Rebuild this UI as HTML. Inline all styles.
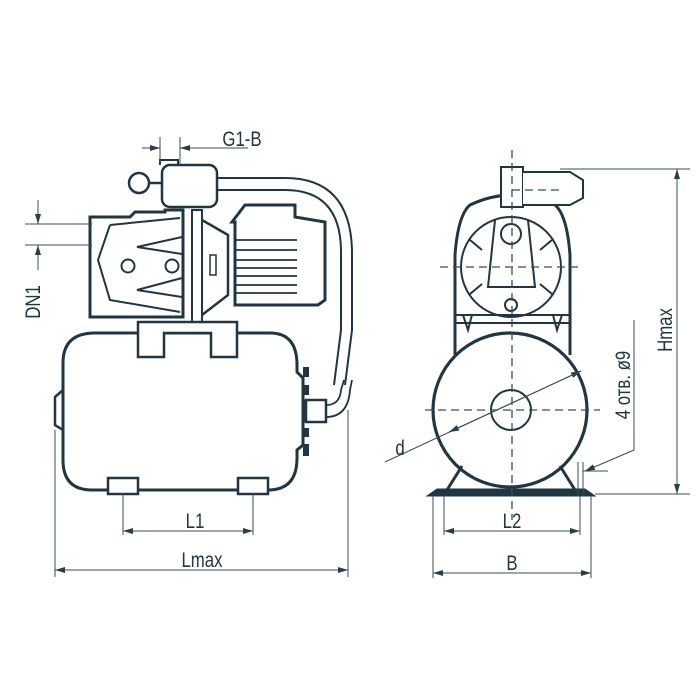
<!DOCTYPE html>
<html><head><style>body{margin:0;background:#fff}svg{display:block}</style></head><body>
<svg width="700" height="700" viewBox="0 0 700 700" xmlns="http://www.w3.org/2000/svg" font-family="Liberation Sans, sans-serif">
<defs>
<marker id="a" viewBox="0 0 10 6" refX="10" refY="3" markerWidth="10" markerHeight="6" orient="auto-start-reverse" markerUnits="userSpaceOnUse"><path d="M0,0L10,3L0,6z" fill="#2a3d48"/></marker>
</defs>
<g fill="none" stroke="#213642" stroke-width="3">
<!-- LEFT VIEW tank -->
<path d="M95,333 H270 Q297,333 297,365 V372 L303,378 V445 L297,450 V458 Q297,490 268,490 H92 Q63,490 63,460 V363 Q63,333 95,333Z" fill="#fff"/>
<path d="M63,390 L55,397 V425 L63,430" stroke-width="2.5"/>
<rect x="108" y="478" width="30" height="16" fill="#fff" stroke-width="2.5"/>
<rect x="238" y="478" width="30" height="16" fill="#fff" stroke-width="2.5"/>
<!-- fittings -->
<g fill="#213642" stroke="none">
<rect x="303" y="367" width="6" height="10"/>
<rect x="303" y="385" width="6" height="10"/>
<rect x="303" y="400" width="6" height="22"/>
<rect x="303" y="428" width="6" height="9"/>
<rect x="303" y="444" width="6" height="12"/>
</g>
<rect x="306" y="400" width="20" height="22" fill="#fff" stroke-width="2.5"/>
<path d="M326,405 Q340,405 341,390 L344,380 M326,417 Q348,417 350,390 L352,380" stroke-width="1.8"/>
<!-- saddle -->
<path d="M138,322 H237 V357 H211 V333 H164 V357 H138Z" fill="#fff" stroke-width="2.5"/>
<!-- pump body -->
<path d="M90,217 H130 L135,212 H165 V210 H183 V317 H90Z" fill="#fff"/>
<path d="M110,225 L180,218 M110,225 L98,260 L110,300 L180,312" stroke-width="2"/>
<path d="M182,237 L137,247 L182,254 M182,278 L137,290 L182,297" stroke-width="2"/>
<circle cx="128" cy="266" r="6.5" stroke-width="2"/><circle cx="172" cy="266" r="6.5" stroke-width="2"/>
<rect x="192" y="210" width="10" height="112" stroke-width="2"/>
<path d="M202,220 L228,235 V295 L202,315" stroke-width="2.5"/>
<rect x="210" y="255" width="6" height="20" stroke-width="1.5"/>
<!-- motor -->
<path d="M232,222 L245,205 H295 V217 L325,222 V300 L318,305 H235 V222Z" fill="#fff"/>
<path d="M236,240 H297 M236,250 H297 M236,260 H297 M236,268 H297 M236,276 H297 M236,285 H297 M236,293 H297" stroke-width="1.8"/>
<!-- hose -->
<path d="M215,178 H285 Q350,178 352,250 V330 L345,385" stroke-width="2"/>
<path d="M215,190 H285 Q340,190 341,250 V330 L334,385" stroke-width="2"/>
<!-- switch -->
<rect x="162" y="165" width="55" height="42" rx="8" fill="#fff" stroke-width="2.5"/>
<circle cx="139" cy="183" r="10" stroke-width="2.5"/>
<path d="M149,183 H162" stroke-width="2.5"/>
<path d="M160,165 V160 H178 V165" stroke-width="2"/>

<!-- RIGHT VIEW -->
<path d="M455,355 V255 Q458,215 470,205 Q512,185 555,205 Q567,215 570,255 V355" fill="#fff"/>
<circle cx="511" cy="267" r="50" stroke-width="2"/>
<path d="M495,220 L488,287 H535 L528,220" stroke-width="2"/>
<path d="M470,240 L482,250 M552,240 L540,250 M470,294 L482,284 M552,294 L540,284" stroke-width="2"/>
<circle cx="511" cy="234" r="10" stroke-width="2"/>
<circle cx="511" cy="305" r="6" stroke-width="2"/>
<path d="M455,315 H570 M455,323 H570" stroke-width="2"/>
<path d="M463,315 L468,330 L472,315 M553,315 L557,330 L562,315" stroke-width="2"/>
<rect x="501" y="167" width="22" height="40" fill="#fff" stroke-width="2"/>
<path d="M523,172 H570 L583,180 V198 L570,205 H523" fill="#fff" stroke-width="2"/>
<circle cx="510" cy="410" r="77" fill="#fff" stroke-width="3.2"/>
<circle cx="511" cy="410" r="20" stroke-width="2"/>
<path d="M462,466 L447,490 M560,466 L575,490" stroke-width="3"/>
<path d="M427,496 L437,489 H585 L595,496Z" fill="#213642" stroke-width="1"/>
</g>
<!-- centerlines -->
<g stroke="#3a4d58" stroke-width="1.3" stroke-dasharray="8,5" fill="none">
<path d="M512,150 V520"/><path d="M440,267 H580"/><path d="M425,410 H600"/><path d="M512,190 H560"/>
</g>
<!-- dimensions -->
<g stroke="#3a4d58" stroke-width="1" fill="none">
<path d="M160,137 V165 M180,137 V165"/>
<path d="M142,148 H160" marker-end="url(#a)"/><path d="M248,148 H180" marker-end="url(#a)"/>
<path d="M25,224 H92 M25,245 H92"/>
<path d="M38,200 V224" marker-end="url(#a)"/><path d="M38,270 V245" marker-end="url(#a)"/>
<path d="M123,493 V535 M253,493 V535"/>
<path d="M123,531 H253" marker-start="url(#a)" marker-end="url(#a)"/>
<path d="M55,430 V577 M348,410 V577"/>
<path d="M55,570 H348" marker-start="url(#a)" marker-end="url(#a)"/>
<path d="M444,496 V535 M580,496 V535 M433,496 V578 M591,496 V578"/>
<path d="M444,531 H580" marker-start="url(#a)" marker-end="url(#a)"/>
<path d="M433,573 H591" marker-start="url(#a)" marker-end="url(#a)"/>
<path d="M560,169 H690 M595,494 H690"/>
<path d="M677,169 V494" marker-start="url(#a)" marker-end="url(#a)"/>
<path d="M385,462 L581,371" marker-end="url(#a)"/><path d="M581,371 L449,432" marker-end="url(#a)"/>
<path d="M634,320 V450 L585,471" marker-end="url(#a)"/>
<path d="M578,462 V496 M583,462 V496 M608,471 H583"/>
</g>
<g fill="#213642" font-size="21" text-anchor="middle">
<text transform="translate(242,146) scale(0.8,1)">G1-B</text>
<text transform="translate(195,528) scale(0.8,1)">L1</text>
<text transform="translate(202,567) scale(0.8,1)">Lmax</text>
<text transform="translate(512,528) scale(0.8,1)">L2</text>
<text transform="translate(512,570) scale(0.8,1)">B</text>
<text transform="translate(400,455) scale(0.8,1)">d</text>
<text transform="translate(40,302) rotate(-90) scale(0.8,1)">DN1</text>
<text transform="translate(672,330) rotate(-90) scale(0.8,1)">Hmax</text>
<text transform="translate(630,385) rotate(-90) scale(0.8,1)">4 отв. ø9</text>
</g>
</svg>
</body></html>
